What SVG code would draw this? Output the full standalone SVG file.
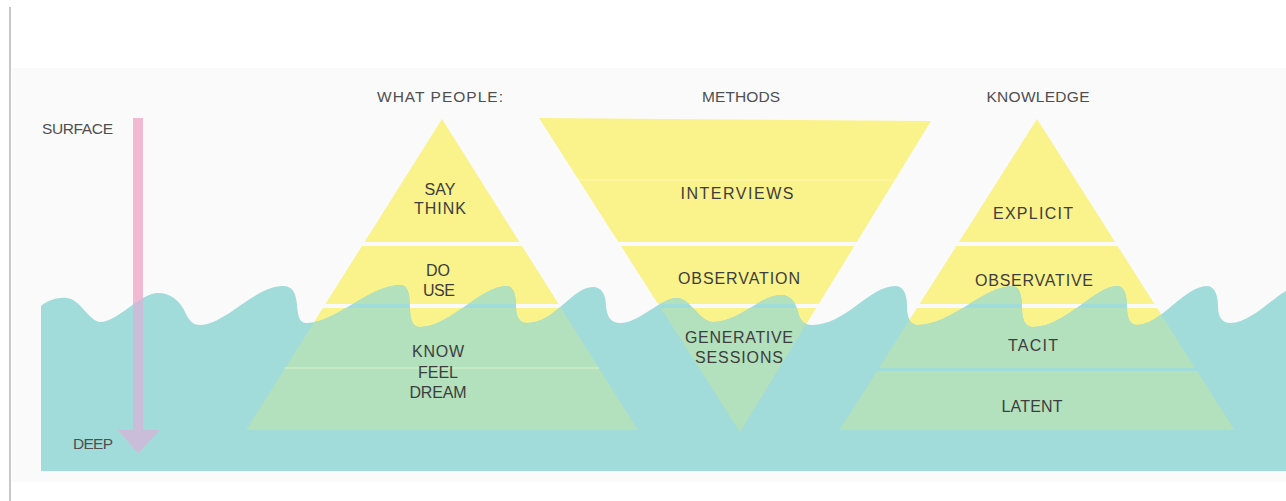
<svg xmlns="http://www.w3.org/2000/svg" xmlns:xlink="http://www.w3.org/1999/xlink" width="1286" height="501" viewBox="0 0 1286 501">
  <style>
    .lbl { font-family: "Liberation Sans", "DejaVu Sans", sans-serif; font-size: 16px; fill: #3d3d3d; text-anchor: middle; }
    .head { font-family: "Liberation Sans", "DejaVu Sans", sans-serif; font-size: 15.5px; fill: #4f4f4f; text-anchor: middle; }
    .dry { fill: #faf28b; }
    .wet { fill: #b3e0bd; }
    .sea { fill: #a1dcdb; }
  </style>
  <defs>
    <!-- sea surface with breaking waves -->
    <path id="seaShape" d="M41,471 L41,306
      C48,300 58,297 67,298 C80,299 88,320 100,322
      C118,322 140,293 158,293 C170,293 180,300 186,314 C190,322 194,325 200,325
      C225,325 255,286 283,286 C292,286 296,292 297,305 C298,318 300,323 307,323
      C335,323 370,285 400,285 C407,285 410,292 410,308 C410,322 414,327 420,327
      C450,327 480,286 507,286 C513,286 516,294 516,306 C516,318 520,323 527,323
      C555,323 572,287 593,287 C601,287 606,294 606,306 C607,318 612,323 620,323
      C640,323 660,298 677,298 C690,298 700,322 713,322
      C740,322 760,295 781,295 C790,295 796,302 798,312 C800,321 805,325 812,325
      C845,325 870,286 895,286 C903,286 907,293 907,306 C907,319 911,325 918,325
      C950,325 985,286 1012,286 C1019,286 1022,294 1022,308 C1022,321 1026,327 1033,327
      C1065,327 1095,286 1117,286 C1124,286 1127,294 1127,307 C1127,320 1131,325 1137,325
      C1160,325 1185,286 1207,286 C1214,286 1218,294 1218,306 C1218,318 1223,323 1230,323
      C1250,323 1270,300 1286,291 L1286,471 Z"/>
    <clipPath id="underwater">
      <use xlink:href="#seaShape"/>
    </clipPath>

    <!-- pyramid sections, shared by the dry and submerged layers -->
    <g id="peopleShapes">
      <polygon points="442,119 519.5,242 364.5,242"/>
      <polygon points="362,246 522,246 558.6,304 325.4,304"/>
      <polygon points="322.9,308 561.1,308 637.9,430 246.1,430"/>
    </g>
    <g id="methodShapes">
      <polygon points="539,118 931,121 856.7,242 618.4,242"/>
      <polygon points="621,246 854.3,246 818.6,304 658,304"/>
      <polygon points="660.7,308 816.1,308 740,432"/>
    </g>
    <g id="knowledgeShapes">
      <polygon points="1037,119 1115.1,242 958.9,242"/>
      <polygon points="956.4,246 1117.6,246 1154.5,304 919.5,304"/>
      <polygon points="917,308 1157,308 1195.1,368 878.9,368"/>
      <polygon points="877,371 1197,371 1234.5,430 839.5,430"/>
    </g>
    <g id="depthArrow">
      <rect x="133" y="118" width="10" height="313"/>
      <polygon points="118,430 160,430 138,453"/>
    </g>
  </defs>

  <!-- paper -->
  <rect x="0" y="0" width="1286" height="501" fill="#ffffff"/>
  <rect x="12" y="68" width="1274" height="414" fill="#fafafa"/>
  <line x1="10" y1="7" x2="10" y2="501" stroke="#b5b5b5" stroke-width="1.5"/>

  <!-- pyramids above the waterline -->
  <g id="what-people">
    <use xlink:href="#peopleShapes" class="dry"/>
  </g>
  <g id="methods">
    <use xlink:href="#methodShapes" class="dry"/>
    <line x1="579" y1="180" x2="895" y2="180" stroke="#fcf6a6" stroke-width="1.5"/>
  </g>
  <g id="knowledge">
    <use xlink:href="#knowledgeShapes" class="dry"/>
  </g>

  <!-- the sea -->
  <g id="sea">
    <use xlink:href="#seaShape" class="sea"/>
  </g>

  <!-- submerged parts of the pyramids -->
  <g id="submerged" clip-path="url(#underwater)">
    <use xlink:href="#peopleShapes" class="wet"/>
    <line x1="285" y1="368" x2="599" y2="368" stroke="#c6eac4" stroke-width="2"/>
    <use xlink:href="#methodShapes" class="wet"/>
    <use xlink:href="#knowledgeShapes" class="wet"/>
  </g>

  <!-- surface-to-deep arrow -->
  <g id="connectors">
    <use xlink:href="#depthArrow" fill="#f2b9d3"/>
    <use xlink:href="#depthArrow" fill="#c9bdd9" clip-path="url(#underwater)"/>
  </g>

  <!-- labels -->
  <g id="axis-labels">
    <text class="head" x="77.5" y="133.5" textLength="71" lengthAdjust="spacing">SURFACE</text>
    <text class="head" x="93" y="448.5" textLength="40" lengthAdjust="spacing">DEEP</text>
  </g>
  <g id="column-titles">
    <text class="head" x="440" y="101.5" textLength="126" lengthAdjust="spacing">WHAT PEOPLE:</text>
    <text class="head" x="741" y="101.5" textLength="78" lengthAdjust="spacing">METHODS</text>
    <text class="head" x="1038" y="101.5" textLength="103" lengthAdjust="spacing">KNOWLEDGE</text>
  </g>
  <g id="people-labels">
    <text class="lbl" x="440" y="195">SAY</text>
    <text class="lbl" x="440" y="214" textLength="52" lengthAdjust="spacing">THINK</text>
    <text class="lbl" x="438" y="276">DO</text>
    <text class="lbl" x="439" y="296" textLength="32" lengthAdjust="spacing">USE</text>
    <text class="lbl" x="438" y="357" textLength="52" lengthAdjust="spacing">KNOW</text>
    <text class="lbl" x="438" y="378" textLength="40" lengthAdjust="spacing">FEEL</text>
    <text class="lbl" x="438" y="398" textLength="57" lengthAdjust="spacing">DREAM</text>
  </g>
  <g id="method-labels">
    <text class="lbl" x="737" y="199" textLength="113" lengthAdjust="spacing">INTERVIEWS</text>
    <text class="lbl" x="739" y="284" textLength="122" lengthAdjust="spacing">OBSERVATION</text>
    <text class="lbl" x="739" y="343" textLength="108" lengthAdjust="spacing">GENERATIVE</text>
    <text class="lbl" x="739" y="363" textLength="88" lengthAdjust="spacing">SESSIONS</text>
  </g>
  <g id="knowledge-labels">
    <text class="lbl" x="1033" y="219" textLength="80" lengthAdjust="spacing">EXPLICIT</text>
    <text class="lbl" x="1034" y="286" textLength="118" lengthAdjust="spacing">OBSERVATIVE</text>
    <text class="lbl" x="1033" y="351" textLength="50" lengthAdjust="spacing">TACIT</text>
    <text class="lbl" x="1032" y="412" textLength="61" lengthAdjust="spacing">LATENT</text>
  </g>
</svg>
